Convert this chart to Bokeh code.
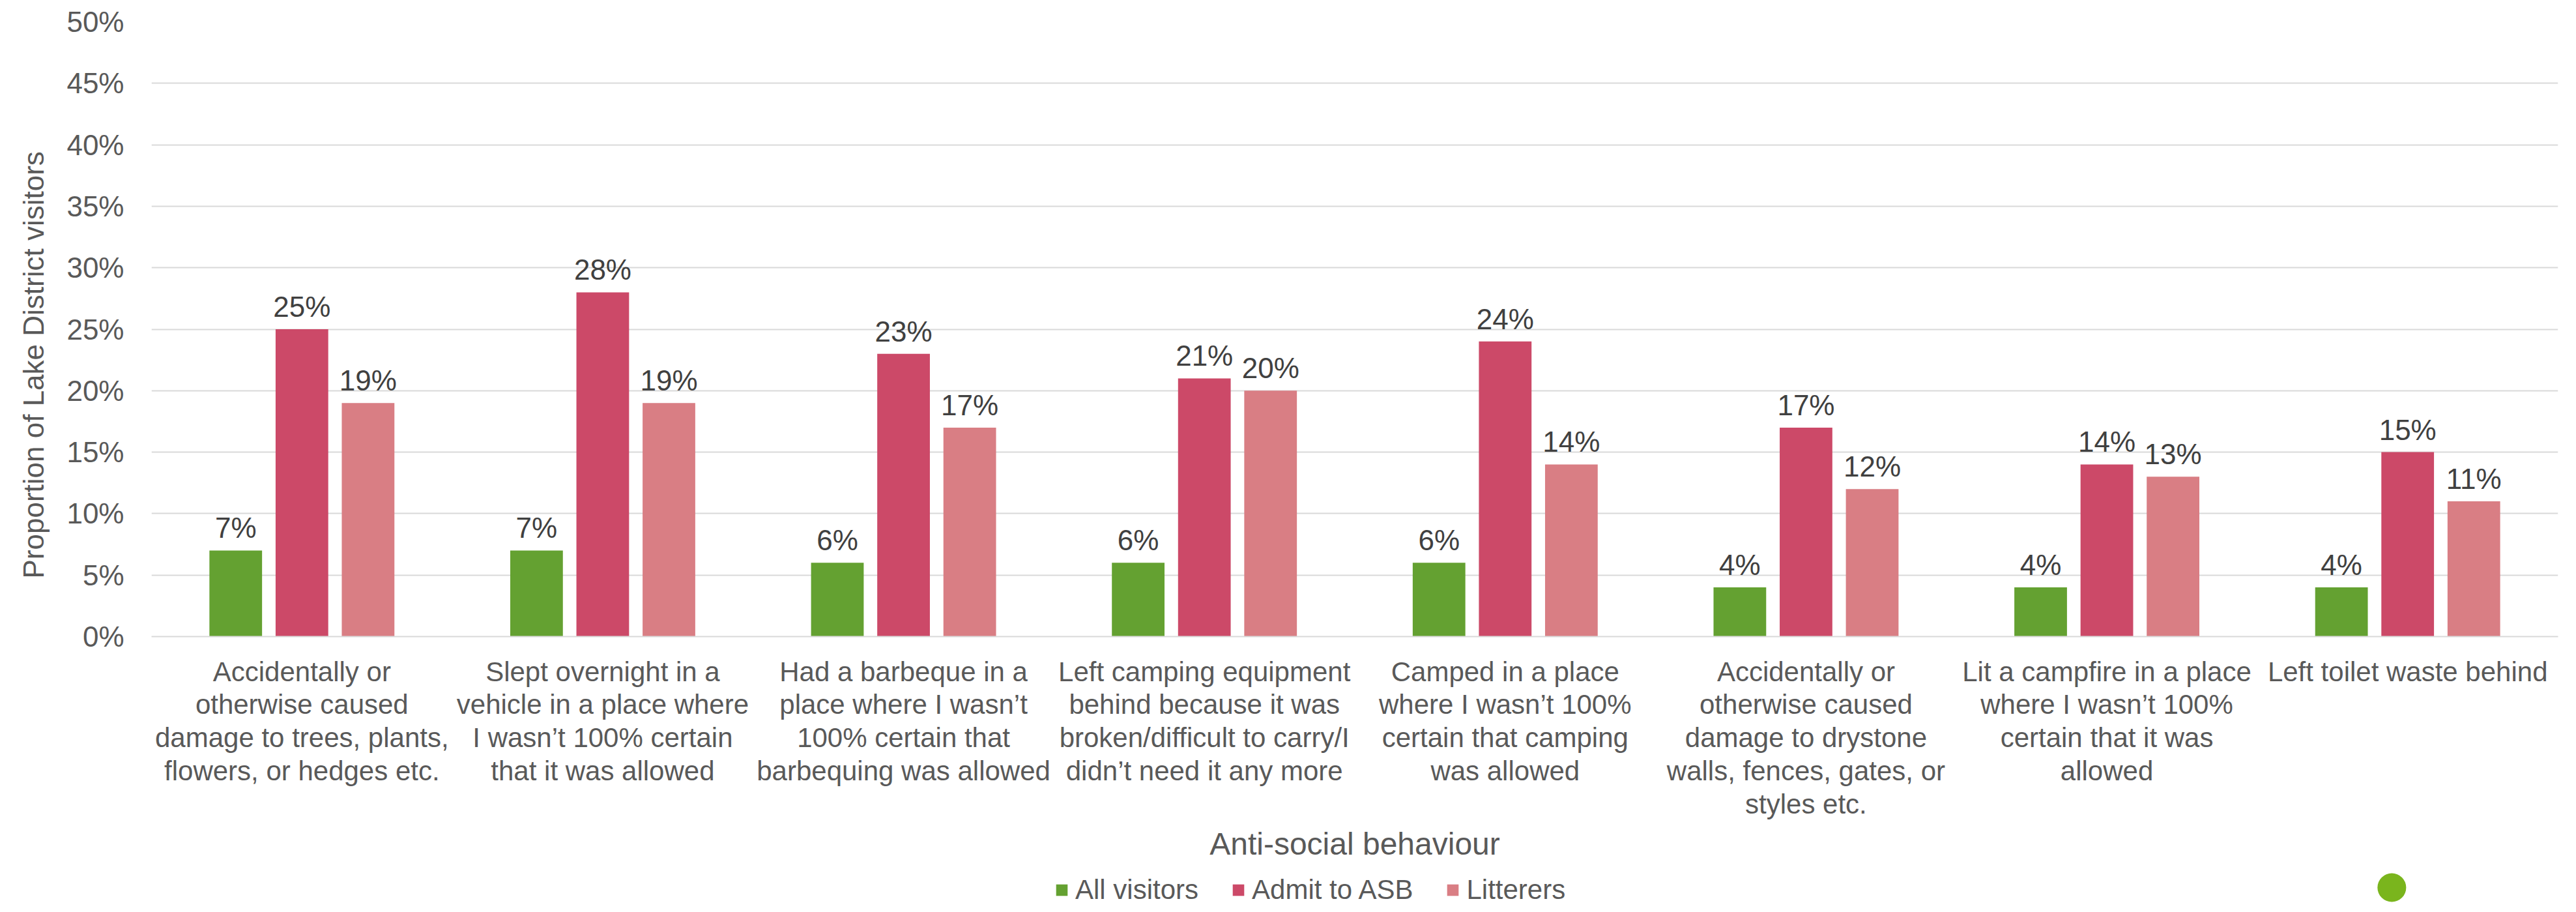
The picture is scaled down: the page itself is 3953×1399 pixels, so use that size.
from bokeh.plotting import figure
from bokeh.layouts import column
from bokeh.models import (FactorRange, ColumnDataSource, Legend, LegendItem, NumeralTickFormatter,
                          FixedTicker, Title)
from bokeh.transform import dodge
from bokeh.core.properties import value
from bokeh.embed import file_html
from bokeh.resources import INLINE

categories = [
    "Accidentally or\notherwise caused\ndamage to trees, plants,\nflowers, or hedges etc.",
    "Slept overnight in a\nvehicle in a place where\nI wasn\u2019t 100% certain\nthat it was allowed",
    "Had a barbeque in a\nplace where I wasn\u2019t\n100% certain that\nbarbequing was allowed",
    "Left camping equipment\nbehind because it was\nbroken/difficult to carry/I\ndidn\u2019t need it any more",
    "Camped in a place\nwhere I wasn\u2019t 100%\ncertain that camping\nwas allowed",
    "Accidentally or\notherwise caused\ndamage to drystone\nwalls, fences, gates, or\nstyles etc.",
    "Lit a campfire in a place\nwhere I wasn\u2019t 100%\ncertain that it was\nallowed",
    "Left toilet waste behind",
]
all_visitors = [7, 7, 6, 6, 6, 4, 4, 4]
admit_asb = [25, 28, 23, 21, 24, 17, 14, 15]
litterers = [19, 19, 17, 20, 14, 12, 13, 11]
series_names = ["All visitors", "Admit to ASB", "Litterers"]
colors = ["#64A131", "#CC4968", "#D97E84"]
y_ticks = [0, 0.05, 0.10, 0.15, 0.20, 0.25, 0.30, 0.35, 0.40, 0.45, 0.50]
y_title = "Proportion of Lake District visitors"
x_title = "Anti-social behaviour"

FONT = "Liberation Sans"
TXT = "#595959"

src = ColumnDataSource(dict(
    cat=categories,
    a=[v / 100 for v in all_visitors],
    b=[v / 100 for v in admit_asb],
    c=[v / 100 for v in litterers],
    la=[f"{v}%" for v in all_visitors],
    lb=[f"{v}%" for v in admit_asb],
    lc=[f"{v}%" for v in litterers],
))

p = figure(x_range=FactorRange(*categories), y_range=(0, 0.5),
           frame_width=3693, frame_height=943, output_backend="svg", toolbar_location=None,
           min_border_left=232, min_border_right=12, min_border_top=33, min_border_bottom=330)
p.outline_line_color = None

offs = [-0.22, 0.0, 0.22]
cols = ["a", "b", "c"]
labs = ["la", "lb", "lc"]
for off, col, lab, colr in zip(offs, cols, labs, colors):
    p.vbar(x=dodge("cat", off, range=p.x_range), top=col, width=0.175, source=src,
           fill_color=colr, line_color=None)
    p.text(x=dodge("cat", off, range=p.x_range), y=col, text=lab, source=src,
           text_align="center", text_baseline="bottom", y_offset=-10,
           text_font=value(FONT), text_font_size="44px", text_color="#404040")

p.yaxis.ticker = FixedTicker(ticks=y_ticks)
p.yaxis.formatter = NumeralTickFormatter(format="0%")
p.yaxis.axis_line_color = None
p.yaxis.major_tick_line_color = None
p.yaxis.minor_tick_line_color = None
p.yaxis.major_label_text_font = FONT
p.yaxis.major_label_text_font_size = "44px"
p.yaxis.major_label_text_color = TXT
p.yaxis.major_label_standoff = 36

p.xaxis.axis_line_color = "#d9d9d9"
p.xaxis.axis_line_width = 2
p.xaxis.major_tick_line_color = None
p.xaxis.minor_tick_line_color = None
p.xaxis.major_label_text_font = FONT
p.xaxis.major_label_text_font_size = "42px"
p.xaxis.major_label_text_line_height = 1.08
p.xaxis.major_label_text_color = TXT
p.xaxis.major_label_standoff = 24
p.xaxis.axis_label = x_title
p.xaxis.axis_label_text_font = FONT
p.xaxis.axis_label_text_font_size = "48px"
p.xaxis.axis_label_text_font_style = "normal"
p.xaxis.axis_label_text_color = TXT
p.xaxis.axis_label_standoff = 8

p.xgrid.grid_line_color = None
p.ygrid.grid_line_color = "#d9d9d9"
p.ygrid.grid_line_width = 2

ytitle = Title(text=y_title, align="left", offset=89, standoff=48,
               text_font=FONT, text_font_size="44px", text_font_style="normal", text_color=TXT)
p.add_layout(ytitle, "left")

# legend strip with the logo dot
p2 = figure(x_range=(0, 3937), y_range=(0, 72), width=3937, height=72,
            output_backend="svg", toolbar_location=None,
            min_border=0, min_border_left=0, min_border_right=0, min_border_top=0, min_border_bottom=0)
p2.axis.visible = False
p2.grid.visible = False
p2.outline_line_color = None
# legend key glyphs: one off-screen placeholder bar each (outside the visible range)
offscreen = ColumnDataSource(dict(x=[-500], top=[-500], bottom=[-600]))
items = []
for n, colr in zip(series_names, colors):
    r = p2.vbar(x="x", top="top", bottom="bottom", width=1, source=offscreen,
                fill_color=colr, line_color=None)
    items.append(LegendItem(label=n, renderers=[r]))
legend = Legend(items=items, orientation="horizontal", location=(1386, 6),
                label_text_font=FONT, label_text_font_size="42px", label_text_color=TXT,
                glyph_width=22, glyph_height=22, spacing=50, label_standoff=10,
                border_line_color=None, background_fill_alpha=0, margin=0, padding=2)
p2.add_layout(legend, "center")
dot_src = ColumnDataSource(dict(x=[3665], y=[34]))
p2.scatter(x="x", y="y", source=dot_src, size=44, fill_color="#7AB51D", line_color=None)

layout = column(p, p2, spacing=0)
open("out.html", "w").write(file_html(layout, INLINE))
